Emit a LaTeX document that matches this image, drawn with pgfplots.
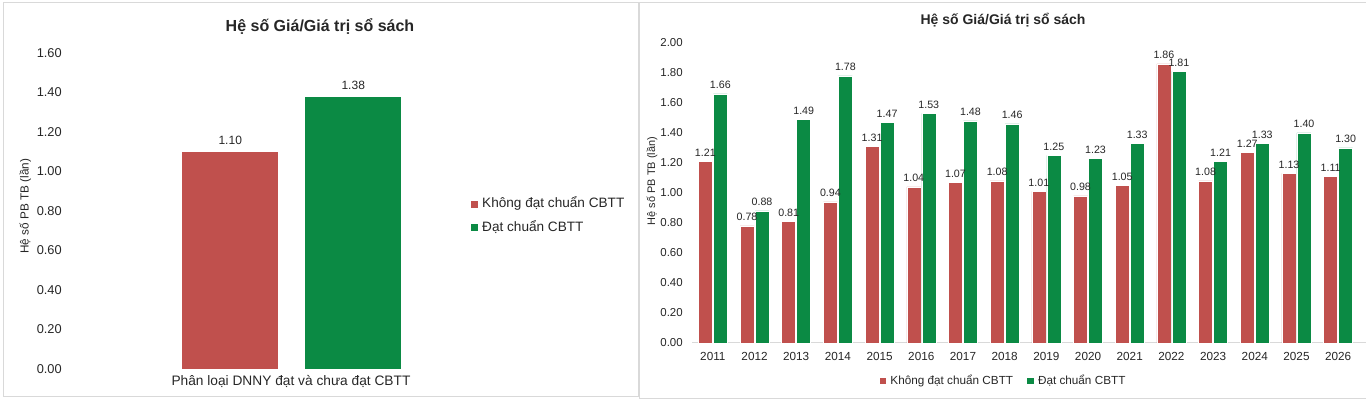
\documentclass[border=0pt]{standalone}
\usepackage{fontspec}
\setmainfont{Liberation Sans}
\usepackage{pgfplots}
\usepackage{pgfplotstable}
\pgfplotsset{compat=1.18}
\pgfplotsset{/pgf/number format/assume math mode=true}

\definecolor{redbar}{HTML}{C0504D}
\definecolor{greenbar}{HTML}{0B8A44}
\definecolor{framegray}{HTML}{D9D9D9}
\definecolor{txt}{HTML}{262626}

% average P/B by year: not meeting / meeting the disclosure standard
\pgfplotstableread{
year red green
2011 1.21 1.66
2012 0.78 0.88
2013 0.81 1.49
2014 0.94 1.78
2015 1.31 1.47
2016 1.04 1.53
2017 1.07 1.48
2018 1.08 1.46
2019 1.01 1.25
2020 0.98 1.23
2021 1.05 1.33
2022 1.86 1.81
2023 1.08 1.21
2024 1.27 1.33
2025 1.13 1.40
2026 1.11 1.30
}\yearly

\pgfkeys{/pgf/number format/fmt2/.style={fixed, fixed zerofill, precision=2}}
\pgfplotsset{
  every axis title shift=0pt,
  sqlegend/.style={legend image code/.code={%
    \fill[##1, draw=none] (0pt,-2.6pt) rectangle (5.2pt,2.6pt);
    \path[draw=none, fill=none] (0pt,0pt) -- (8.2pt,0pt);}},
}

\begin{document}
\begin{tikzpicture}[every node/.style={text=txt}]
\path[use as bounding box] (0,0) rectangle (1024.5pt,301.5pt);

% panel frames
\draw[framegray, line width=0.75pt] (2.25pt,3.75pt) rectangle (478.5pt,299.25pt);
\draw[framegray, line width=0.75pt] (1030pt,299.25pt) -- (479.25pt,299.25pt) -- (479.25pt,2.25pt) -- (1030pt,2.25pt);

% ---------- overall comparison ----------
\begin{axis}[
  at={(52.5pt,24.75pt)}, anchor=south west, scale only axis,
  width=332.625pt, height=237pt,
  xmin=-1, xmax=1, ymin=0, ymax=1.6,
  ybar=19.5pt, bar width=72.75pt,
  ytick={0,0.2,0.4,0.6,0.8,1.0,1.2,1.4,1.6},
  yticklabel={\pgfmathprintnumber[fmt2]{\tick}},
  xtick=\empty,
  axis line style={draw=none},
  major tick length=0pt,
  yticklabel style={font=\fontsize{9.6}{11}\selectfont, inner sep=0pt, xshift=-6pt},
  title={Hệ số Giá/Giá trị sổ sách},
  title style={font=\bfseries\fontsize{12}{14}\selectfont, at={(axis description cs:0.5637,1.0854)}, anchor=center},
  xlabel={Phân loại DNNY đạt và chưa đạt CBTT},
  xlabel style={font=\fontsize{10.3}{12}\selectfont, at={(axis description cs:0.4983,-0.038)}, anchor=center},
  ylabel={Hệ số PB TB (lần)},
  ylabel style={font=\fontsize{8.8}{10}\selectfont, at={(axis description cs:-0.1005,0.515)}, anchor=center},
  nodes near coords={\pgfmathprintnumber[fmt2]{\pgfplotspointmeta}},
  every node near coord/.append style={font=\fontsize{9}{11}\selectfont, inner sep=0pt, yshift=5.25pt},
  sqlegend,
  legend style={at={(axis description cs:0.9042,0.4842)}, anchor=west, draw=none, fill=none,
    font=\fontsize{10.2}{12}\selectfont, inner sep=0pt, row sep=8.25pt,
    nodes={inner sep=0pt, text height=7.5pt, text depth=2pt}},
  legend cell align=left,
]
\addplot[fill=redbar, draw=white, line width=0.4pt] coordinates {(0,1.10)};
\addplot[fill=greenbar, draw=white, line width=0.4pt] coordinates {(0,1.38)};
\legend{Không đạt chuẩn CBTT, Đạt chuẩn CBTT}
\end{axis}

% ---------- by year ----------
\begin{axis}[
  at={(519pt,44.25pt)}, anchor=south west, scale only axis,
  width=500.25pt, height=225pt,
  xmin=-0.5, xmax=15.5, ymin=0, ymax=2,
  ybar=0.75pt, bar width=10.5pt,
  ytick={0,0.2,0.4,0.6,0.8,1.0,1.2,1.4,1.6,1.8,2.0},
  yticklabel={\pgfmathprintnumber[fmt2]{\tick}},
  xtick=data,
  xticklabels from table={\yearly}{year},
  axis x line*=bottom, axis y line*=left,
  x axis line style={framegray, line width=0.75pt, shorten >=-6pt},
  y axis line style={draw=none},
  major tick length=0pt,
  yticklabel style={font=\fontsize{8.6}{10}\selectfont, inner sep=0pt, xshift=-6.75pt},
  xticklabel style={font=\fontsize{8.8}{10}\selectfont, inner sep=0pt, yshift=-6.75pt},
  title={Hệ số Giá/Giá trị sổ sách},
  title style={font=\bfseries\fontsize{10.5}{12}\selectfont, at={(axis description cs:0.4663,1.0767)}, anchor=center},
  ylabel={Hệ số PB TB (lần)},
  ylabel style={font=\fontsize{8.2}{10}\selectfont, at={(axis description cs:-0.06,0.54)}, anchor=center},
  nodes near coords={\pgfmathprintnumber[fmt2]{\pgfplotspointmeta}},
  every node near coord/.append style={font=\fontsize{8}{10}\selectfont, inner sep=0pt, yshift=3.75pt},
  sqlegend,
  legend columns=2,
  legend style={at={(axis description cs:0.4655,-0.1267)}, anchor=center, draw=none, fill=none,
    font=\fontsize{8.8}{10}\selectfont, inner sep=0pt,
    nodes={inner sep=0pt},
    /tikz/every odd column/.append style={column sep=0pt},
    /tikz/every even column/.append style={column sep=10.5pt}},
]
\addplot[fill=redbar, draw=white, line width=0.4pt] table[x expr=\coordindex, y=red] {\yearly};
\addplot[fill=greenbar, draw=white, line width=0.4pt] table[x expr=\coordindex, y=green] {\yearly};
\legend{Không đạt chuẩn CBTT, Đạt chuẩn CBTT}
\end{axis}
\end{tikzpicture}
\end{document}
